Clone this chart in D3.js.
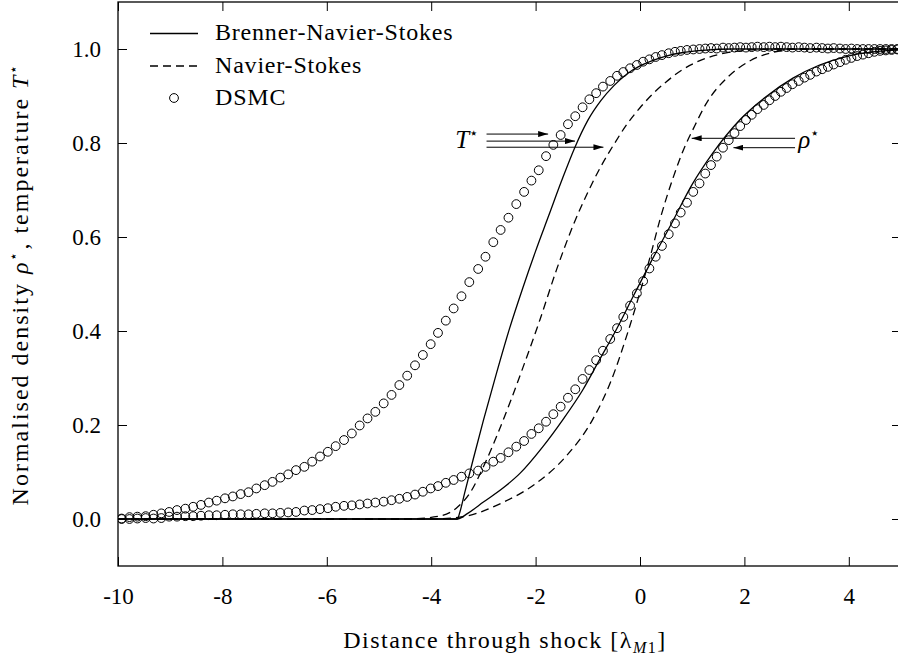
<!DOCTYPE html>
<html>
<head>
<meta charset="utf-8">
<script src="https://cdnjs.cloudflare.com/ajax/libs/d3/7.8.5/d3.min.js"></script>
<style>
  body { margin: 0; background: #fff; }
  svg { display: block; font-family: "Liberation Serif", "DejaVu Serif", serif; }
</style>
</head>
<body>
<svg id="chart"></svg>
<script>
// ticks
var xTicks = [-10, -8, -6, -4, -2, 0, 2, 4];
var yTicks = [0, 0.2, 0.4, 0.6, 0.8, 1.0];

// DSMC samples (shared x positions)
var dsmcX = [-9.93,-9.78,-9.63,-9.47,-9.32,-9.17,-9.02,-8.87,-8.71,-8.56,-8.41,-8.26,-8.11,-7.95,-7.80,-7.65,
  -7.50,-7.35,-7.19,-7.04,-6.89,-6.74,-6.59,-6.43,-6.28,-6.13,-5.98,-5.83,-5.67,-5.52,-5.37,-5.22,-5.07,-4.91,
  -4.76,-4.61,-4.46,-4.31,-4.16,-4.01,-3.87,-3.72,-3.57,-3.42,-3.27,-3.10,-2.96,-2.81,-2.67,-2.52,-2.37,-2.22,
  -2.08,-1.94,-1.80,-1.66,-1.52,-1.38,-1.24,-1.10,-0.97,-0.84,-0.71,-0.57,-0.44,-0.32,-0.19,-0.06,0.06,0.18,
  0.30,0.42,0.55,0.67,0.78,0.90,1.02,1.14,1.25,1.36,1.47,1.59,1.70,1.81,1.92,2.03,2.14,2.25,2.37,2.48,2.59,
  2.70,2.81,2.92,3.04,3.15,3.26,3.38,3.49,3.60,3.71,3.83,3.94,4.05,4.16,4.27,4.38,4.49,4.60,4.71,4.82,4.93,5.04];

var dsmcT = [0.001,0.004,0.005,0.006,0.009,0.012,0.015,0.019,0.022,0.026,0.030,0.035,0.039,0.044,0.048,0.053,
  0.057,0.065,0.072,0.079,0.088,0.095,0.104,0.111,0.122,0.133,0.143,0.155,0.168,0.182,0.199,0.214,0.228,0.246,
  0.264,0.285,0.305,0.327,0.349,0.372,0.396,0.422,0.448,0.474,0.504,0.532,0.558,0.589,0.615,0.641,0.670,0.696,
  0.720,0.742,0.772,0.796,0.817,0.840,0.857,0.876,0.893,0.906,0.920,0.932,0.943,0.951,0.959,0.966,0.973,0.978,
  0.983,0.987,0.991,0.994,0.996,0.998,0.999,1.000,1.001,1.002,1.001,1.003,1.002,1.003,1.004,1.003,1.004,1.005,
  1.004,1.005,1.004,1.005,1.004,1.003,1.004,1.003,1.002,1.003,1.002,1.001,1.002,1.001,1.000,1.001,1.000,1.000,
  1.000,1.000,1.000,1.000,1.000,1.000,1.000];

var dsmcRho = [0.000,0.000,0.001,0.002,0.001,0.002,0.005,0.005,0.006,0.006,0.007,0.008,0.008,0.009,0.010,0.010,
  0.010,0.011,0.012,0.012,0.013,0.014,0.015,0.018,0.019,0.021,0.023,0.026,0.028,0.029,0.031,0.033,0.035,0.037,
  0.040,0.043,0.047,0.052,0.058,0.065,0.070,0.077,0.083,0.090,0.097,0.103,0.111,0.122,0.130,0.142,0.154,0.166,
  0.181,0.193,0.207,0.223,0.239,0.258,0.276,0.298,0.317,0.338,0.358,0.383,0.406,0.430,0.454,0.480,0.506,0.533,
  0.558,0.581,0.606,0.629,0.652,0.673,0.696,0.714,0.735,0.753,0.771,0.790,0.806,0.821,0.836,0.849,0.860,0.872,
  0.881,0.891,0.900,0.909,0.917,0.925,0.932,0.939,0.945,0.952,0.957,0.962,0.967,0.972,0.977,0.981,0.985,0.988,
  0.991,0.994,0.996,0.997,0.998,0.999,1.000];

// Brenner-Navier-Stokes, temperature
var bnsTX = [-10,-3.5,-3.45,-3.36,-3.2,-3.0,-2.75,-2.5,-2.25,-2.0,-1.75,-1.5,-1.25,-1.0,-0.75,-0.5,-0.25,0,0.25,0.5,0.8,1.2,1.8,5];
var bnsTY = [0,0,0.015,0.055,0.125,0.21,0.31,0.405,0.49,0.57,0.645,0.72,0.79,0.848,0.89,0.922,0.947,0.964,0.976,0.985,0.992,0.997,1,1];
// Navier-Stokes, temperature
var nsTX = [-10,-4.5,-3.84,-3.52,-3.26,-3.0,-2.75,-2.5,-2.25,-1.92,-1.6,-1.28,-1.0,-0.75,-0.5,-0.25,0,0.25,0.5,0.8,1.1,1.5,2.0,2.6,5];
var nsTY = [0,0,0.006,0.023,0.055,0.111,0.175,0.245,0.32,0.423,0.53,0.625,0.695,0.75,0.797,0.84,0.875,0.905,0.93,0.955,0.973,0.988,0.997,1,1];
// Brenner-Navier-Stokes, density
var bnsRhoX = [-10,-3.5,-3.3,-3.0,-2.6,-2.3,-1.86,-1.48,-1.1,-0.78,-0.44,-0.12,0.2,0.62,1.0,1.39,1.91,2.42,2.93,3.44,3.95,4.46,5];
var bnsRhoY = [0,0,0.012,0.036,0.068,0.097,0.154,0.211,0.274,0.338,0.406,0.476,0.545,0.632,0.712,0.778,0.849,0.899,0.938,0.966,0.984,0.994,0.998];
// Navier-Stokes, density
var nsRhoX = [-10,-4,-3.39,-2.63,-1.99,-1.42,-0.91,-0.55,-0.24,0.02,0.2,0.38,0.64,0.85,1.02,1.28,1.66,2.11,2.55,3.07,5];
var nsRhoY = [0,0,0.005,0.035,0.076,0.133,0.211,0.295,0.395,0.49,0.56,0.636,0.728,0.79,0.83,0.886,0.938,0.975,0.993,1,1];

var legendNames = ["Brenner-Navier-Stokes", "Navier-Stokes", "DSMC"];

var svgW = 898, svgH = 662;
var padL = 118, padR = 901, padT = 2, padB = 566; // plot frame edges

var svg = d3.select("#chart").attr("width", svgW).attr("height", svgH);

var x = d3.scaleLinear().domain([-10, 5]).range([padL, padR]);
var y = d3.scaleLinear().domain([-0.1, 1.1]).range([padB, padT]);

var defs = svg.append("defs");
defs.append("clipPath").attr("id", "plotClip")
  .append("rect").attr("x", padL).attr("y", padT).attr("width", padR - padL).attr("height", padB - padT);
defs.append("marker")
  .attr("id", "head")
  .attr("markerUnits", "userSpaceOnUse")
  .attr("markerWidth", 10).attr("markerHeight", 6)
  .attr("refX", 10).attr("refY", 3)
  .attr("orient", "auto")
  .append("path").attr("d", "M0,0L10,3L0,6z").attr("fill", "#000");

// axes: ticks inward on all four sides
function styleAxis(g) {
  g.select(".domain").remove();
  g.selectAll(".tick line").attr("stroke", "#000").attr("stroke-width", 1);
  g.selectAll("text").attr("font-size", 23).attr("fill", "#000")
    .attr("font-family", "Liberation Serif, DejaVu Serif, serif");
}

svg.append("g").attr("transform", "translate(0," + padB + ")")
  .call(d3.axisBottom(x).tickValues(xTicks).tickSize(-9).tickPadding(22).tickFormat(function(d){ return String(d); }))
  .call(styleAxis);
svg.append("g").attr("transform", "translate(0," + padT + ")")
  .call(d3.axisTop(x).tickValues(xTicks).tickSize(-9).tickFormat(""))
  .call(styleAxis);
svg.append("g").attr("transform", "translate(" + padL + ",0)")
  .call(d3.axisLeft(y).tickValues(yTicks).tickSize(-9).tickPadding(17).tickFormat(d3.format(".1f")))
  .call(styleAxis);
svg.append("g").attr("transform", "translate(" + padR + ",0)")
  .call(d3.axisRight(y).tickValues(yTicks).tickSize(-9).tickFormat(""))
  .call(styleAxis);

svg.append("rect")
  .attr("x", padL).attr("y", padT).attr("width", padR - padL).attr("height", padB - padT)
  .attr("fill", "none").attr("stroke", "#000").attr("stroke-width", 1.3);

var plot = svg.append("g").attr("clip-path", "url(#plotClip)");

var line = d3.line()
  .x(function(d){ return x(d[0]); })
  .y(function(d){ return y(d[1]); })
  .curve(d3.curveMonotoneX);

var curves = [
  { xs: bnsTX, ys: bnsTY, dash: null },
  { xs: bnsRhoX, ys: bnsRhoY, dash: null },
  { xs: nsTX, ys: nsTY, dash: "8,5" },
  { xs: nsRhoX, ys: nsRhoY, dash: "8,5" }
];

plot.selectAll("path.curve").data(curves).enter()
  .append("path")
  .attr("class", "curve")
  .attr("d", function(c){ return line(d3.zip(c.xs, c.ys)); })
  .attr("fill", "none")
  .attr("stroke", "#000")
  .attr("stroke-width", 1.3)
  .attr("stroke-dasharray", function(c){ return c.dash; });

// DSMC circles
var dsmcPts = d3.zip(dsmcX, dsmcT).concat(d3.zip(dsmcX, dsmcRho));
plot.selectAll("circle.dsmc").data(dsmcPts).enter()
  .append("circle")
  .attr("class", "dsmc")
  .attr("cx", function(d){ return x(d[0]); })
  .attr("cy", function(d){ return y(d[1]); })
  .attr("r", 4.4)
  .attr("fill", "none")
  .attr("stroke", "#000")
  .attr("stroke-width", 1);

// annotation arrows (data coordinates)
var tArrows = [[-2.94, 0.819, -1.76], [-2.94, 0.804, -1.245], [-2.94, 0.791, -0.70]];
var rhoArrows = [[2.97, 0.81, 0.99], [2.97, 0.79, 1.79]];
plot.selectAll("line.arrow").data(tArrows.concat(rhoArrows)).enter()
  .append("line")
  .attr("class", "arrow")
  .attr("x1", function(d){ return x(d[0]); })
  .attr("y1", function(d){ return y(d[1]); })
  .attr("x2", function(d){ return x(d[2]); })
  .attr("y2", function(d){ return y(d[1]); })
  .attr("stroke", "#000")
  .attr("stroke-width", 1)
  .attr("marker-end", "url(#head)");

var tLabel = svg.append("text")
  .attr("x", x(-3.54)).attr("y", y(0.789))
  .attr("font-size", 25);
tLabel.append("tspan").attr("font-style", "italic").text("T");
tLabel.append("tspan").attr("font-size", 15).attr("dy", -10).text("\u22C6");

var rLabel = svg.append("text")
  .attr("x", x(3.03)).attr("y", y(0.789))
  .attr("font-size", 25);
rLabel.append("tspan").attr("font-style", "italic").text("\u03C1");
rLabel.append("tspan").attr("font-size", 15).attr("dy", -10).text("\u22C6");

// legend
var legend = svg.append("g");
var rowY = [33.5, 66, 98];
legend.append("line").attr("x1", 150).attr("x2", 198).attr("y1", rowY[0]).attr("y2", rowY[0])
  .attr("stroke", "#000").attr("stroke-width", 1.3);
legend.append("line").attr("x1", 150).attr("x2", 198).attr("y1", rowY[1]).attr("y2", rowY[1])
  .attr("stroke", "#000").attr("stroke-width", 1.3).attr("stroke-dasharray", "8,5");
legend.append("circle").attr("cx", 174).attr("cy", rowY[2]).attr("r", 4.4)
  .attr("fill", "none").attr("stroke", "#000");
legend.selectAll("text").data(legendNames).enter()
  .append("text")
  .attr("x", 215)
  .attr("y", function(d, i){ return rowY[i] + 6.5; })
  .attr("font-size", 24)
  .attr("letter-spacing", 0.8)
  .text(function(d){ return d; });

// axis labels
var xLab = svg.append("text")
  .attr("x", 505).attr("y", 648)
  .attr("text-anchor", "middle")
  .attr("font-size", 24)
  .attr("letter-spacing", 1.5);
xLab.append("tspan").text("Distance through shock [\u03BB");
var sub = xLab.append("tspan").attr("font-size", 16).attr("dy", 5);
sub.append("tspan").attr("font-style", "italic").text("M");
sub.append("tspan").text("1");
xLab.append("tspan").attr("dy", -5).text("]");

var yLab = svg.append("text")
  .attr("transform", "translate(28,284) rotate(-90)")
  .attr("text-anchor", "middle")
  .attr("font-size", 24)
  .attr("letter-spacing", 2);
yLab.append("tspan").text("Normalised density ");
yLab.append("tspan").attr("font-style", "italic").text("\u03C1");
yLab.append("tspan").attr("font-size", 14).attr("dy", -10).text("\u22C6");
yLab.append("tspan").attr("dy", 10).text(", temperature ");
yLab.append("tspan").attr("font-style", "italic").text("T");
yLab.append("tspan").attr("font-size", 14).attr("dy", -10).text("\u22C6");
</script>
</body>
</html>
